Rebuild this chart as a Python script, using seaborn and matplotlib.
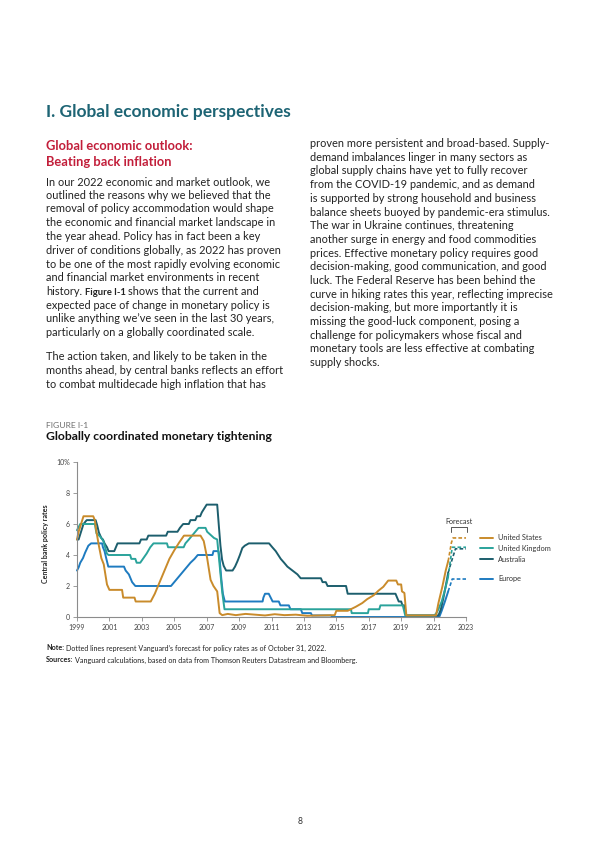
import numpy as np
import pandas as pd
import matplotlib
matplotlib.use("Agg")
import matplotlib.pyplot as plt
import seaborn as sns
from matplotlib.lines import Line2D

# ---- chart data: decimal years and policy rates (%) ----
us_years = [1999.0, 1999.1, 1999.25, 1999.4, 2000.0, 2000.1, 2000.2, 2000.35, 2000.5, 2000.65,
            2000.85, 2001.0, 2001.78, 2001.85, 2002.55, 2002.62, 2003.55, 2003.8, 2004.1, 2004.4,
            2004.7, 2005.0, 2005.3, 2005.6, 2006.62, 2006.82, 2007.03, 2007.24, 2007.42, 2007.65,
            2007.8, 2007.96, 2008.3, 2008.8, 2009.4, 2010.0, 2010.6, 2011.2, 2011.8, 2012.5,
            2013.2, 2014.0, 2014.9, 2015.0, 2015.7, 2016.2, 2016.6, 2016.9, 2017.3, 2017.6,
            2017.9, 2018.2, 2018.7, 2018.8, 2019.0, 2019.05, 2019.2, 2019.32, 2021.15, 2021.3,
            2021.55, 2021.75, 2021.9]
us_rates = [5.0, 5.5, 6.0, 6.5, 6.5, 6.25, 5.5, 4.6, 3.8, 3.4,
            2.1, 1.75, 1.75, 1.25, 1.25, 1.0, 1.0, 1.5, 2.25, 3.0,
            3.75, 4.3, 4.8, 5.25, 5.25, 4.9, 3.8, 2.4, 2.0, 1.65,
            0.25, 0.12, 0.2, 0.12, 0.2, 0.15, 0.1, 0.18, 0.12, 0.15,
            0.08, 0.1, 0.12, 0.4, 0.4, 0.66, 0.9, 1.15, 1.4, 1.7,
            1.95, 2.35, 2.35, 2.1, 2.1, 1.65, 1.55, 0.1, 0.1, 0.9,
            2.0, 3.0, 3.6]

uk_years = [1999.0, 1999.2, 2000.1, 2000.2, 2000.42, 2000.63, 2000.84, 2000.94, 2002.28, 2002.35,
            2002.6, 2002.68, 2002.9, 2003.1, 2003.3, 2003.52, 2003.72, 2004.55, 2004.62, 2005.58,
            2005.69, 2005.9, 2006.1, 2006.3, 2006.5, 2006.93, 2007.03, 2007.24, 2007.45, 2007.65,
            2007.75, 2007.96, 2008.1, 2015.9, 2015.95, 2016.95, 2017.0, 2017.65, 2017.72, 2019.1,
            2019.25, 2021.05, 2021.17, 2021.3, 2021.5, 2021.7, 2021.9]
uk_rates = [5.6, 6.0, 6.0, 5.4, 5.2, 4.9, 4.1, 4.0, 4.0, 3.75,
            3.75, 3.5, 3.5, 3.8, 4.1, 4.5, 4.75, 4.75, 4.5, 4.5,
            4.75, 5.0, 5.25, 5.5, 5.75, 5.75, 5.5, 5.3, 5.1, 5.0,
            3.9, 1.6, 0.5, 0.5, 0.25, 0.25, 0.5, 0.5, 0.75, 0.75,
            0.1, 0.1, 0.25, 0.5, 1.0, 1.75, 2.6]

aus_years = [1999.0, 1999.1, 1999.25, 1999.4, 1999.6, 2000.15, 2000.25, 2000.35, 2000.5, 2000.6,
             2000.7, 2000.85, 2000.95, 2001.3, 2001.4, 2001.5, 2002.85, 2002.95, 2003.3, 2003.4,
             2004.5, 2004.6, 2005.2, 2005.35, 2005.55, 2005.9, 2006.0, 2006.3, 2006.4, 2006.6,
             2006.7, 2006.85, 2007.0, 2007.65, 2007.75, 2007.85, 2007.95, 2008.05, 2008.2, 2008.6,
             2008.75, 2008.9, 2009.05, 2009.2, 2009.35, 2009.6, 2010.85, 2011.05, 2011.26, 2011.57,
             2011.78, 2011.98, 2012.29, 2012.6, 2012.8, 2014.05, 2014.15, 2014.35, 2014.46, 2015.6,
             2015.7, 2018.65, 2018.75, 2018.85, 2019.0, 2019.08, 2019.2, 2019.31, 2021.3, 2021.45,
             2021.6, 2021.75, 2021.9]
aus_rates = [5.0, 5.0, 5.5, 6.0, 6.25, 6.25, 5.9, 5.45, 5.1, 5.0,
             4.75, 4.5, 4.25, 4.25, 4.5, 4.75, 4.75, 5.0, 5.0, 5.25,
             5.25, 5.5, 5.5, 5.75, 6.0, 6.0, 6.25, 6.25, 6.5, 6.5,
             6.75, 7.0, 7.25, 7.25, 5.9, 4.6, 3.7, 3.3, 3.0, 3.0,
             3.25, 3.6, 4.0, 4.45, 4.6, 4.75, 4.75, 4.5, 4.25, 3.75,
             3.5, 3.25, 3.0, 2.75, 2.5, 2.5, 2.25, 2.25, 2.0, 2.0,
             1.5, 1.5, 1.25, 1.0, 1.0, 0.75, 0.75, 0.1, 0.1, 0.5,
             1.2, 2.0, 2.85]

eu_years = [1999.0, 1999.1, 1999.2, 1999.37, 1999.5, 1999.7, 1999.87, 2000.55, 2000.6, 2000.7,
            2000.8, 2000.93, 2001.9, 2002.0, 2002.2, 2002.3, 2002.4, 2002.6, 2004.8, 2005.0,
            2005.2, 2005.4, 2005.6, 2005.8, 2006.0, 2006.25, 2006.45, 2007.36, 2007.42, 2007.73,
            2007.8, 2007.9, 2008.0, 2008.12, 2010.45, 2010.5, 2010.6, 2010.83, 2010.95, 2011.07,
            2011.45, 2011.55, 2012.07, 2012.17, 2012.81, 2012.9, 2013.43, 2013.5, 2014.67, 2014.75,
            2021.35, 2021.5, 2021.7, 2021.9]
eu_rates = [3.0, 3.2, 3.5, 3.8, 4.15, 4.6, 4.75, 4.75, 4.5, 4.25,
            3.8, 3.25, 3.25, 3.0, 2.75, 2.5, 2.25, 2.0, 2.0, 2.25,
            2.5, 2.75, 3.0, 3.25, 3.5, 3.75, 4.0, 4.0, 4.25, 4.25,
            3.75, 2.5, 1.5, 1.0, 1.0, 1.25, 1.5, 1.5, 1.25, 1.0,
            1.0, 0.75, 0.75, 0.5, 0.5, 0.25, 0.25, 0.1, 0.1, 0.0,
            0.0, 0.4, 1.0, 1.65]

# Vanguard forecasts (dashed)
us_fc_years = [2021.9, 2022.1, 2022.2, 2023.0]
us_fc_rates = [3.6, 4.8, 5.1, 5.1]
uk_fc_years = [2021.9, 2022.15, 2023.0]
uk_fc_rates = [2.6, 4.5, 4.5]
aus_fc_years = [2021.9, 2022.05, 2022.35, 2023.0]
aus_fc_rates = [2.85, 3.4, 4.4, 4.4]
eu_fc_years = [2021.9, 2022.15, 2023.0]
eu_fc_rates = [1.65, 2.45, 2.45]

series_names = ["United States", "United Kingdom", "Australia", "Europe"]
colors = {"United States": "#C98B2B", "United Kingdom": "#2AA39B",
          "Australia": "#1C5E6D", "Europe": "#1E7BC0"}

solid = pd.concat([
    pd.DataFrame({"year": eu_years, "rate": eu_rates, "series": "Europe"}),
    pd.DataFrame({"year": aus_years, "rate": aus_rates, "series": "Australia"}),
    pd.DataFrame({"year": uk_years, "rate": uk_rates, "series": "United Kingdom"}),
    pd.DataFrame({"year": us_years, "rate": us_rates, "series": "United States"}),
])
forecast = {
    "Europe": (eu_fc_years, eu_fc_rates),
    "Australia": (aus_fc_years, aus_fc_rates),
    "United Kingdom": (uk_fc_years, uk_fc_rates),
    "United States": (us_fc_years, us_fc_rates),
}

sns.set_theme(style="white")
plt.rcParams['font.family'] = ['Lato', 'DejaVu Sans']

W, H = 600, 848
fig = plt.figure(figsize=(6, 8.48), dpi=100)
fig.patch.set_facecolor("white")


def fx(x):
    return x / W


def fy(y):
    return 1 - y / H


ax = fig.add_axes([fx(77), fy(617), fx(466) - fx(77), fy(462) - fy(617)])

sns.lineplot(data=solid, x="year", y="rate", hue="series", palette=colors,
             estimator=None, sort=False, legend=False, lw=1.4, clip_on=False, ax=ax)
for name, (xs, ys) in forecast.items():
    fc = pd.DataFrame({"year": xs, "rate": ys})
    sns.lineplot(data=fc, x="year", y="rate", color=colors[name], estimator=None,
                 sort=False, lw=1.2, linestyle=(0, (2.2, 1.3)), clip_on=False, ax=ax)

ax.set_xlim(1999, 2023)
ax.set_ylim(0, 10)
ax.set_xticks(range(1999, 2024, 2))
ax.set_yticks([0, 2, 4, 6, 8, 10])
ax.set_yticklabels(["0", "2", "4", "6", "8", "10%"])
ax.set_xlabel("")
ax.set_ylabel("Central bank policy rates", fontsize=5.1, fontweight="bold", color="#222222")
ax.yaxis.set_label_coords(-0.072, 0.47)
for side in ["top", "right"]:
    ax.spines[side].set_visible(False)
for side in ["left", "bottom"]:
    ax.spines[side].set_color("#8c8c8c")
    ax.spines[side].set_linewidth(0.8)
ax.tick_params(bottom=True, left=True, direction="out", length=3, width=0.6,
               colors="#8c8c8c", labelcolor="#444444", labelsize=5.0, pad=2)
ax.set_facecolor("none")

# forecast bracket
ax.text(2022.55, 6.15, "Forecast", ha="center", va="center", fontsize=5.2, color="#333333")
ax.plot([2022.05, 2022.05, 2023.05, 2023.05], [5.5, 5.8, 5.8, 5.5],
        color="#555555", lw=0.7, clip_on=False)

# legend at the right
legend_y = {"United States": 538, "United Kingdom": 548, "Australia": 559, "Europe": 579}
for name in series_names:
    y = legend_y[name]
    fig.add_artist(Line2D([fx(480), fx(493)], [fy(y), fy(y)], color=colors[name], lw=1.4))
    fig.text(fx(498), fy(y), name, fontsize=5.3, color="#333333", va="center", ha="left")

# ---- page text ----
body = "#222222"


def put(x, y, s, size=7.9, weight="normal", color=body):
    return fig.text(fx(x), fy(y), s, fontsize=size, fontweight=weight, color=color,
                    va="baseline", ha="left")


put(46, 117, "I. Global economic perspectives", size=12.5, weight="bold", color="#1D6474")
put(46, 150.5, "Global economic outlook:", size=9.3, weight="bold", color="#C21E3A")
put(46, 166, "Beating back inflation", size=9.3, weight="bold", color="#C21E3A")

left_lines = [
    "In our 2022 economic and market outlook, we",
    "outlined the reasons why we believed that the",
    "removal of policy accommodation would shape",
    "the economic and financial market landscape in",
    "the year ahead. Policy has in fact been a key",
    "driver of conditions globally, as 2022 has proven",
    "to be one of the most rapidly evolving economic",
    "and financial market environments in recent",
    None,
    "expected pace of change in monetary policy is",
    "unlike anything we\u2019ve seen in the last 30 years,",
    "particularly on a globally coordinated scale.",
]
renderer = fig.canvas.get_renderer()
for i, line in enumerate(left_lines):
    yb = 185 + 13.75 * i
    if line is None:
        t1 = put(46, yb, "history.")
        x1 = t1.get_window_extent(renderer).x1 + 2.7
        t2 = put(x1, yb, "Figure I-1", size=6.8, weight="bold")
        x2 = t2.get_window_extent(renderer).x1 + 2.7
        put(x2, yb, "shows that the current and")
    else:
        put(46, yb, line)

for i, line in enumerate([
    "The action taken, and likely to be taken in the",
    "months ahead, by central banks reflects an effort",
    "to combat multidecade high inflation that has",
]):
    put(46, 360 + 13.75 * i, line)

right_lines = [
    "proven more persistent and broad-based. Supply-",
    "demand imbalances linger in many sectors as",
    "global supply chains have yet to fully recover",
    "from the COVID-19 pandemic, and as demand",
    "is supported by strong household and business",
    "balance sheets buoyed by pandemic-era stimulus.",
    "The war in Ukraine continues, threatening",
    "another surge in energy and food commodities",
    "prices. Effective monetary policy requires good",
    "decision-making, good communication, and good",
    "luck. The Federal Reserve has been behind the",
    "curve in hiking rates this year, reflecting imprecise",
    "decision-making, but more importantly it is",
    "missing the good-luck component, posing a",
    "challenge for policymakers whose fiscal and",
    "monetary tools are less effective at combating",
    "supply shocks.",
]
for i, line in enumerate(right_lines):
    put(310, 147 + 13.7 * i, line)

put(46, 428, "FIGURE I-1", size=6.1, color="#6E6E6E")
put(46, 440, "Globally coordinated monetary tightening", size=8.7, weight="bold", color="#111111")

t = put(46, 650.5, "Note:", size=5.1, weight="bold")
put(t.get_window_extent(renderer).x1 + 1.5, 650.5,
    "Dotted lines represent Vanguard\u2019s forecast for policy rates as of October 31, 2022.", size=5.1)
t = put(46, 662.5, "Sources:", size=5.2, weight="bold")
put(t.get_window_extent(renderer).x1 + 1.5, 662.5,
    "Vanguard calculations, based on data from Thomson Reuters Datastream and Bloomberg.", size=5.2)

fig.text(fx(300), fy(822), "8", fontsize=6.2, color="#333333", ha="center", va="center")

fig.savefig("out.png", dpi=100, facecolor="white")
